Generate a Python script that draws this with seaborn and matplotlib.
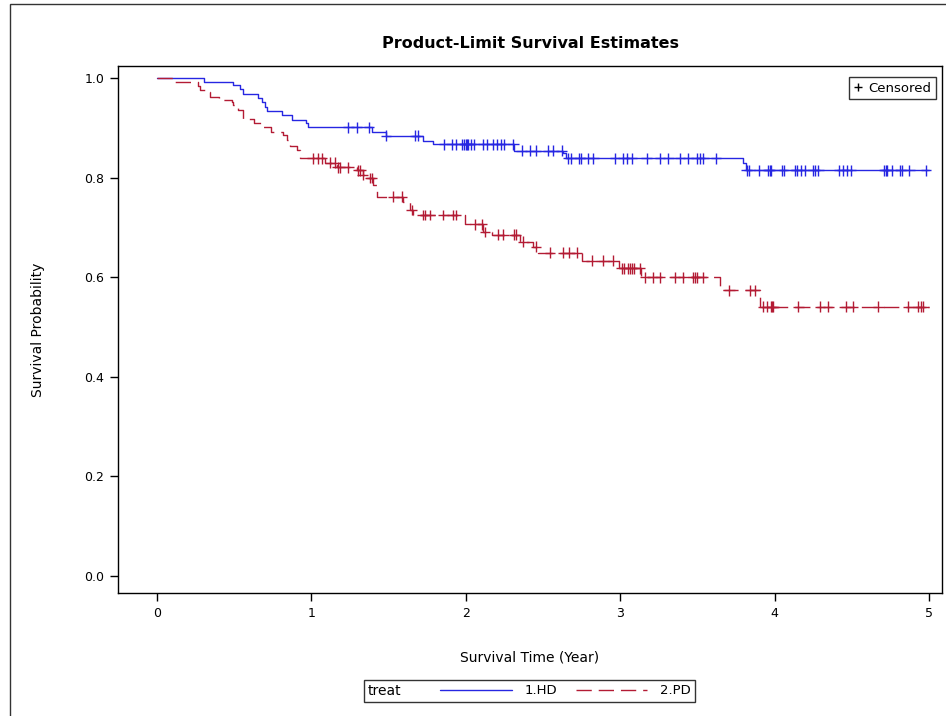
import numpy as np
import pandas as pd
import matplotlib
matplotlib.use('Agg')
import matplotlib.pyplot as plt
import seaborn as sns
from matplotlib.lines import Line2D
from matplotlib.patches import Rectangle
from matplotlib.offsetbox import HPacker

groups = ['1.HD', '2.PD']
t_end = 5.0

# KM steps: time of each drop (years) and survival after it
hd_step_t = [0.307, 0.494, 0.538, 0.555, 0.652, 0.682, 0.699, 0.710, 0.807, 0.872,
             0.965, 0.980, 1.390, 1.483, 1.725, 1.790, 2.312, 2.630, 2.650, 3.797, 3.817]
hd_step_s = [0.991, 0.985, 0.977, 0.967, 0.959, 0.951, 0.942, 0.934, 0.926, 0.916,
             0.909, 0.901, 0.892, 0.884, 0.874, 0.867, 0.854, 0.849, 0.839, 0.829, 0.815]
hd_cens_t = [1.239, 1.293, 1.373, 1.483, 1.671, 1.688, 1.861, 1.909, 1.934, 1.973,
             1.990, 2.000, 2.010, 2.017, 2.032, 2.055, 2.113, 2.135, 2.178, 2.200,
             2.226, 2.247, 2.308, 2.362, 2.416, 2.455, 2.534, 2.567, 2.621, 2.664,
             2.679, 2.735, 2.744, 2.793, 2.826, 2.966, 3.020, 3.042, 3.074, 3.172,
             3.258, 3.312, 3.387, 3.441, 3.496, 3.517, 3.538, 3.620, 3.819, 3.836,
             3.901, 3.959, 3.967, 3.975, 4.046, 4.061, 4.132, 4.143, 4.169, 4.197,
             4.247, 4.262, 4.283, 4.419, 4.441, 4.467, 4.493, 4.709, 4.719, 4.730,
             4.758, 4.812, 4.823, 4.872, 4.981]

pd_step_t = [0.101, 0.268, 0.278, 0.311, 0.343, 0.402, 0.484, 0.494, 0.516, 0.527,
             0.559, 0.630, 0.689, 0.736, 0.818, 0.844, 0.861, 0.909, 0.926, 1.088,
             1.164, 1.293, 1.332, 1.358, 1.401, 1.423, 1.595, 1.639, 1.660, 1.995,
             2.114, 2.168, 2.351, 2.437, 2.470, 2.750, 2.994, 3.133, 3.646, 3.905]
pd_step_s = [0.991, 0.984, 0.976, 0.971, 0.961, 0.955, 0.951, 0.946, 0.941, 0.936,
             0.917, 0.909, 0.902, 0.892, 0.886, 0.876, 0.863, 0.855, 0.839, 0.830,
             0.821, 0.815, 0.805, 0.799, 0.785, 0.762, 0.752, 0.735, 0.725, 0.706,
             0.691, 0.685, 0.671, 0.661, 0.649, 0.633, 0.618, 0.600, 0.574, 0.541]
pd_cens_t = [1.008, 1.045, 1.067, 1.120, 1.153, 1.170, 1.185, 1.239, 1.304, 1.318,
             1.332, 1.380, 1.390, 1.531, 1.585, 1.650, 1.720, 1.736, 1.768, 1.854,
             1.915, 1.937, 2.060, 2.103, 2.124, 2.210, 2.243, 2.312, 2.325, 2.372,
             2.455, 2.545, 2.631, 2.670, 2.718, 2.815, 2.890, 2.955, 3.009, 3.025,
             3.053, 3.065, 3.077, 3.089, 3.128, 3.161, 3.210, 3.258, 3.355, 3.409,
             3.473, 3.484, 3.495, 3.534, 3.707, 3.841, 3.873, 3.927, 3.953, 3.975,
             3.984, 3.992, 4.154, 4.294, 4.348, 4.462, 4.506, 4.672, 4.866, 4.931,
             4.947, 4.963]

x_ticks = [0, 1, 2, 3, 4, 5]
y_ticks = [0.0, 0.2, 0.4, 0.6, 0.8, 1.0]

pal = {'1.HD': '#2626E2', '2.PD': '#B31B34'}


def step_frame(name, st, ss):
    t = [0.0] + list(st) + [t_end]
    s = [1.0] + list(ss) + [ss[-1]]
    return pd.DataFrame({'time': t, 'surv': s, 'treat': name})


def cens_frame(name, st, ss, ct):
    st = np.array(st)
    ss = np.array(ss)
    idx = np.searchsorted(st, ct, side='right') - 1
    lev = np.where(idx >= 0, ss[np.clip(idx, 0, None)], 1.0)
    return pd.DataFrame({'time': ct, 'surv': lev, 'treat': name})


curves = pd.concat([step_frame('1.HD', hd_step_t, hd_step_s),
                    step_frame('2.PD', pd_step_t, pd_step_s)], ignore_index=True)
cens = pd.concat([cens_frame('1.HD', hd_step_t, hd_step_s, hd_cens_t),
                  cens_frame('2.PD', pd_step_t, pd_step_s, pd_cens_t)], ignore_index=True)

sns.set_theme(style='ticks')
plt.rcParams['font.family'] = ['DejaVu Sans']
plt.rcParams['text.color'] = 'black'
plt.rcParams['axes.labelcolor'] = 'black'

W, H = 946, 716
fig = plt.figure(figsize=(W / 100, H / 100), dpi=100)
ax = fig.add_axes([118 / W, 1 - 593 / H, (942 - 118) / W, (593 - 66) / H])

sns.lineplot(data=curves, x='time', y='surv', hue='treat', style='treat',
             palette=pal, dashes={'1.HD': '', '2.PD': (11, 5)},
             drawstyle='steps-post', estimator=None, sort=False, lw=1,
             legend=False, ax=ax)
sns.scatterplot(data=cens, x='time', y='surv', hue='treat', palette=pal,
                marker='+', s=60, linewidth=1, legend=False, ax=ax)

ax.set_xlim((118 - 157) / 154.4, (942 - 157) / 154.4)
ax.set_ylim((576 - 593) / 498, (576 - 66) / 498)
ax.set_xticks(x_ticks)
ax.set_xticklabels([str(v) for v in x_ticks])
ax.set_yticks(y_ticks)
ax.set_yticklabels(['%.1f' % v for v in y_ticks])
ax.tick_params(direction='out', length=6, width=1, labelsize=9, colors='black', pad=4)
for sp in ax.spines.values():
    sp.set_visible(True)
    sp.set_color('black')
    sp.set_linewidth(1)

ax.set_xlabel('Survival Time (Year)', fontsize=10, labelpad=22, color='black')
ax.set_ylabel('Survival Probability', fontsize=10, labelpad=28, color='black')
fig.text(530 / W, 1 - 44 / H, 'Product-Limit Survival Estimates', ha='center',
         va='center', fontsize=11.5, fontweight='bold', color='black')

# censored key inside the axes
cens_handle = Line2D([], [], ls='none', marker='+', color='black', ms=6, mew=1)
leg1 = ax.legend([cens_handle], ['Censored'], loc='upper right',
                 bbox_to_anchor=(936 / W, 1 - 77 / H), bbox_transform=fig.transFigure,
                 borderaxespad=0, frameon=True, fancybox=False, edgecolor='black',
                 handlelength=0.6, handletextpad=0.5, borderpad=0.35, fontsize=9.5,
                 labelcolor='black')
leg1.get_frame().set_linewidth(1)

# treat legend below the axes, title on the left
handles = [Line2D([], [], color=pal['1.HD'], lw=1),
           Line2D([], [], color=pal['2.PD'], lw=1, dashes=(11, 5))]
leg2 = fig.legend(handles, groups, title='treat', ncol=2, loc='center',
                  bbox_to_anchor=((366 + 693) / 2 / W, 1 - 691 / H),
                  frameon=True, fancybox=False, edgecolor='black', fontsize=9.5,
                  title_fontsize=10, handlelength=5.4, handletextpad=1.0,
                  columnspacing=1.4, borderpad=0.3, labelcolor='black')
leg2.get_frame().set_linewidth(1)
leg2.get_title().set_color('black')
leg2._legend_box.__class__ = HPacker
leg2._legend_box.sep = 28

fig.patches.append(Rectangle((10 / W, -0.1), 1.2, 1 - 4 / H + 0.1, fill=False,
                             transform=fig.transFigure, lw=1, edgecolor='#333333'))

fig.savefig('out.png', dpi=100, facecolor='white')
